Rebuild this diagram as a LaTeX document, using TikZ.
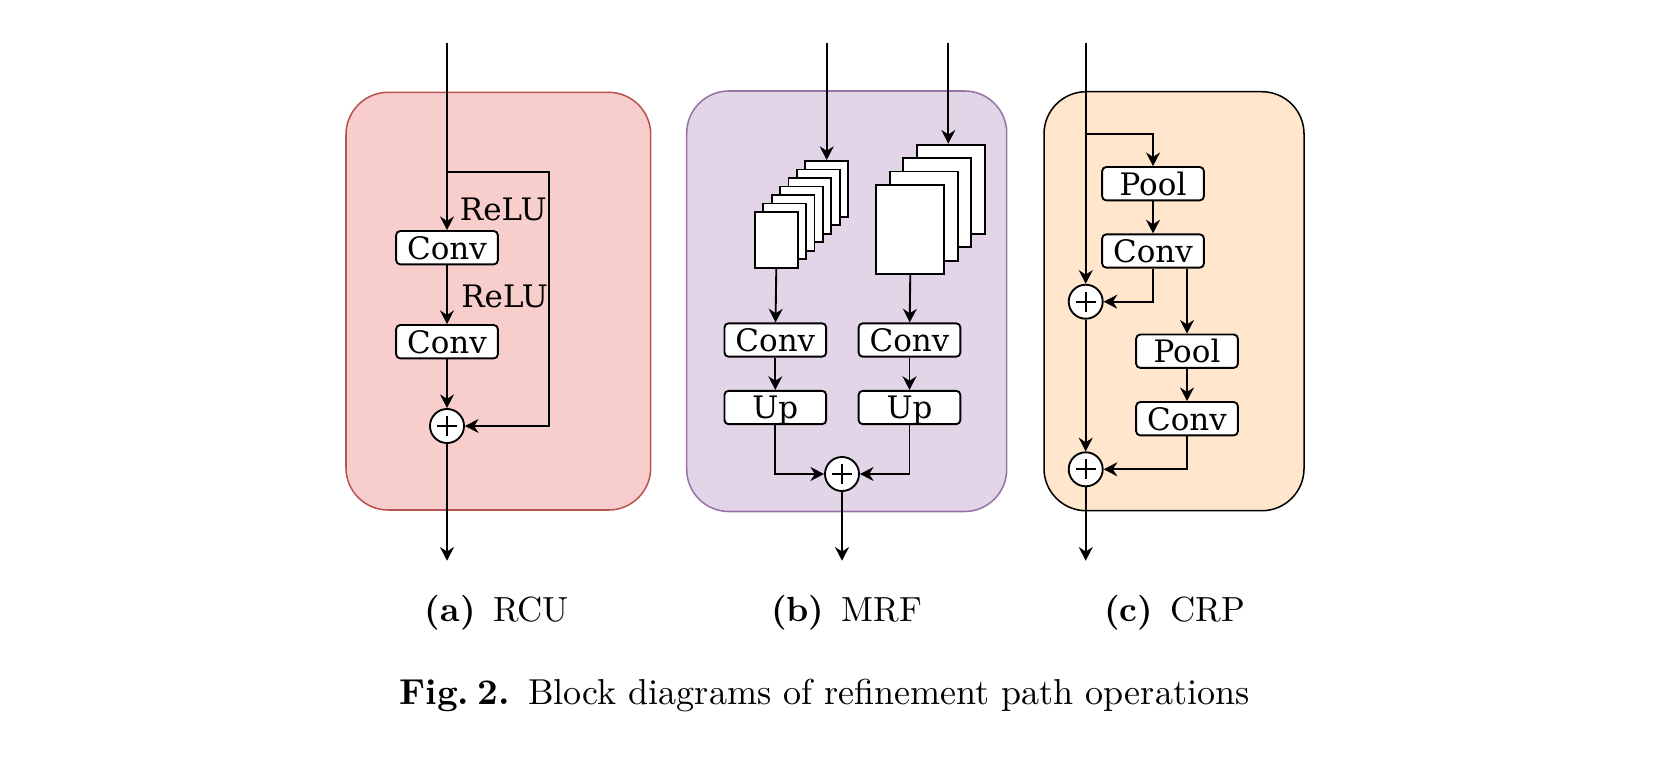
\documentclass[tikz,border=0pt]{standalone}
\usepackage{fontspec}
\newfontfamily\dvs{DejaVu Serif}
\usetikzlibrary{arrows.meta,calc}
\definecolor{rcufill}{HTML}{F8CECC}
\definecolor{rculine}{HTML}{B85450}
\definecolor{mrffill}{HTML}{E1D5E7}
\definecolor{mrfline}{HTML}{9673A6}
\definecolor{crpfill}{HTML}{FFE6CC}
\begin{document}
\begin{tikzpicture}[x=0.294pt,y=-0.294pt,
  arr/.style={-{Stealth[length=4pt,width=4.1pt,inset=1.3pt]}, line width=0.55pt},
  ln/.style={line width=0.55pt},
  opbox/.style={draw, fill=white, line width=0.55pt, rounded corners=1.2pt,
    minimum width=29.9pt, minimum height=9.8pt, inner sep=0pt,
    font=\dvs\fontsize{9.1}{11}\selectfont, text height=6.7pt, text depth=0pt},
  sumnode/.style={circle, draw, fill=white, line width=0.55pt, minimum size=10pt, inner sep=0pt,
    path picture={\draw[line width=0.5pt] (path picture bounding box.center) ++(-2.9pt,0) -- ++(5.8pt,0)
      (path picture bounding box.center) ++(0,-2.9pt) -- ++(0,5.8pt);}},
  panel/.style={rounded corners=12.4pt, line width=0.45pt},
  lbl/.style={font=\dvs\fontsize{9.1}{11}\selectfont, inner sep=0pt, anchor=base west},
  sheet/.style={draw, fill=white, line width=0.55pt, inner sep=0pt, anchor=north west},
  captext/.style={inner sep=0pt, anchor=base}
]
\useasboundingbox (0,0) rectangle (1666,760);

% ---------------- panels ----------------
\draw[panel, fill=rcufill, draw=rculine] (346,92.3) rectangle (650.7,510);
\draw[panel, fill=mrffill, draw=mrfline] (686.7,91) rectangle (1006.7,511.5);
\draw[panel, fill=crpfill, draw=black] (1044,91.7) rectangle (1304,510.7);

% ---------------- RCU ----------------
\coordinate (ain) at (447,42.7);
\coordinate (abr) at (447,172.3);
\node[opbox] (ac1) at (447,247.7) {Conv};
\node[opbox] (ac2) at (447,341.7) {Conv};
\node[sumnode] (as) at (447,426) {};
\coordinate (abrc) at (549,426);
\coordinate (aout) at (447,560.7);
\draw[arr] (ain) -- (ac1);
\draw[arr] (ac1) -- (ac2);
\draw[arr] (ac2) -- (as);
\draw[arr] (abr) -| (abrc) -- (as);
\draw[arr] (as) -- (aout);
\node[lbl] (arelu1) at (459.3,220.7) {ReLU};
\node[lbl] (arelu2) at (460.7,307.6) {ReLU};

% ---------------- MRF ----------------
\foreach \k in {6,5,...,0}
  \node[sheet, minimum width=12.55pt, minimum height=16.4pt] (sa\k) at ({754+8.4*\k},{211-8.5*\k}) {};
\foreach \k in {3,2,1,0}
  \node[sheet, minimum width=20pt, minimum height=26.25pt] (sb\k) at ({875.3+13.45*\k},{184-13.45*\k}) {};
\coordinate (bin1) at (826.7,42.7);
\coordinate (bin2) at (948.3,42.7);
\draw[arr] (bin1) -- (bin1 |- sa6.north);
\draw[arr] (bin2) -- (bin2 |- sb3.north);
\node[opbox] (bcl) at (775.3,340) {Conv};
\node[opbox] (bcr) at (909.5,340) {Conv};
\node[opbox] (bul) at (775.3,407.5) {Up};
\node[opbox] (bur) at (909.5,407.5) {Up};
\node[sumnode] (bs) at (842,474) {};
\coordinate (bout) at (842,560.7);
\draw[arr] (sa0.south) -- (bcl);
\draw[arr] (sb0.south) -- (bcr);
\draw[arr] (bcl) -- (bul);
\draw[arr] (bcr) -- (bur);
\draw[arr] (bul) |- (bs);
\draw[arr] (bur) |- (bs);
\draw[arr] (bs) -- (bout);

% ---------------- CRP ----------------
\coordinate (cin) at (1085.7,42.7);
\coordinate (cbr) at (1085.7,134);
\node[opbox] (cp1) at (1153,183.7) {Pool};
\node[opbox] (cc1) at (1153,251) {Conv};
\node[sumnode] (cs1) at (1085.7,301.7) {};
\node[opbox] (cp2) at (1187,351.2) {Pool};
\node[opbox] (cc2) at (1187,418.7) {Conv};
\node[sumnode] (cs2) at (1085.7,469.3) {};
\coordinate (cout) at (1085.7,560.7);
\draw[arr] (cin) -- (cs1);
\draw[arr] (cbr) -| (cp1);
\draw[arr] (cp1) -- (cc1);
\draw[arr] (cc1) |- (cs1);
\draw[arr] (cp2 |- cc1.south) -- (cp2);
\draw[arr] (cp2) -- (cc2);
\draw[arr] (cc2) |- (cs2);
\draw[arr] (cs1) -- (cs2);
\draw[arr] (cs2) -- (cout);

% ---------------- captions ----------------
\node[captext, font=\fontsize{10.25}{12}\selectfont] (capa) at (497,621.7) {\textbf{(a)}\enspace RCU};
\node[captext, font=\fontsize{10.25}{12}\selectfont] (capb) at (846.7,621.7) {\textbf{(b)}\enspace MRF};
\node[captext, font=\fontsize{10.25}{12}\selectfont] (capc) at (1174.5,621.7) {\textbf{(c)}\enspace CRP};
\node[captext, font=\fontsize{10.6}{12}\selectfont] (figcap) at (824.5,704.3) {\textbf{Fig.\hspace{2.5pt}2.}\enspace Block diagrams of refinement path operations};
\end{tikzpicture}
\end{document}
